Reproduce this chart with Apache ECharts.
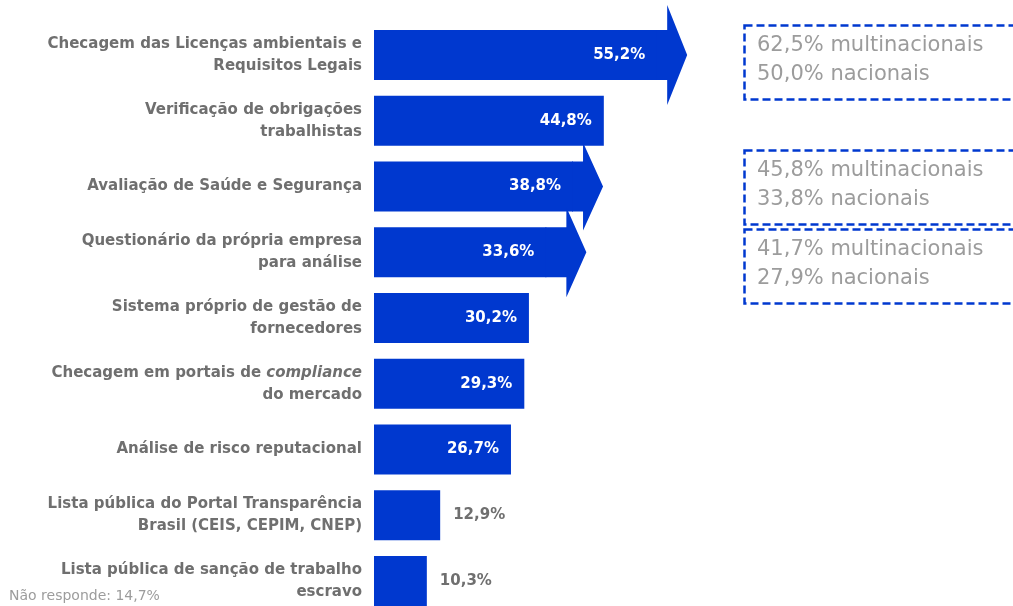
<!DOCTYPE html>
<html>
<head>
<meta charset="utf-8">
<script src="https://cdn.jsdelivr.net/npm/echarts@6/dist/echarts.min.js"></script>
<style>
  html, body { margin: 0; padding: 0; background: #fff; }
  #chart { width: 1013px; height: 606px; }
</style>
</head>
<body>
<div id="chart"></div>
<script>
// categories, top to bottom
const categories = [
    'Checagem das Licenças ambientais e\nRequisitos Legais',
    'Verificação de obrigações\ntrabalhistas',
    'Avaliação de Saúde e Segurança',
    'Questionário da própria empresa\npara análise',
    'Sistema próprio de gestão de\nfornecedores',
    'Checagem em portais de compliance\ndo mercado',
    'Análise de risco reputacional',
    'Lista pública do Portal Transparência\nBrasil (CEIS, CEPIM, CNEP)',
    'Lista pública de sanção de trabalho\nescravo'
]
const values = [55.2, 44.8, 38.8, 33.6, 30.2, 29.3, 26.7, 12.9, 10.3]

// bars with an arrow and a breakdown box
const arrowIdx = [0, 2, 3]
const multinacionais = [62.5, 45.8, 41.7]
const nacionais = [50.0, 33.8, 27.9]
const naoResponde = 14.7

const BLUE = '#0038CF'
const GRAY = '#6f6f6f'
const LIGHT = '#9c9c9c'
const FONT = 'DejaVu Sans'

const fmt = v => v.toFixed(1).replace('.', ',') + '%'

// arrow look (px)
const shaftExt = [10, 10, 20]
const headHalf = [50, 44, 45]
const headLen = 20

let dom = echarts.init(document.getElementById('chart'))

let boxes = []
const boxTop = [23, 148, 227]
arrowIdx.forEach((idx, i) => {
    boxes.push({
        type: 'rect',
        left: 742, top: boxTop[i],
        shape: { width: 330, height: 74 },
        style: { fill: 'none', stroke: BLUE, lineWidth: 2.5, lineDash: [8, 4] },
        z: 10
    })
    boxes.push({
        type: 'text',
        left: 757, top: boxTop[i] + 8,
        style: {
            text: fmt(multinacionais[i]) + ' multinacionais\n' + fmt(nacionais[i]) + ' nacionais',
            fill: LIGHT, font: '21px "' + FONT + '"', lineHeight: 29
        },
        z: 11
    })
})
boxes.push({
    type: 'text', left: 9, top: 589,
    style: { text: 'Não responde: ' + fmt(naoResponde), fill: LIGHT, font: '14px "' + FONT + '"' }
})

let option = {
    animation: false,
    grid: { left: 374, top: 22, width: 513, height: 592, outerBoundsMode: 'none' },
    xAxis: { type: 'value', min: 0, max: 100, show: false },
    yAxis: {
        type: 'category',
        inverse: true,
        data: categories,
        axisLine: { show: false },
        axisTick: { show: false },
        axisLabel: {
            margin: 12,
            color: GRAY,
            fontFamily: FONT,
            fontWeight: 'bold',
            fontSize: 15,
            lineHeight: 22,
            align: 'right',
            formatter: function (v) {
                return v.replace('compliance', '{i|compliance}')
            },
            rich: {
                i: { fontStyle: 'italic', fontWeight: 'bold', color: GRAY, fontFamily: FONT, fontSize: 15, lineHeight: 22 }
            }
        }
    },
    series: [
        {
            type: 'bar',
            barWidth: 50,
            itemStyle: { color: BLUE },
            data: values.map(v => ({
                value: v,
                label: v < 20
                    ? { show: true, position: 'right', distance: 13, color: GRAY }
                    : { show: true, position: 'insideRight', distance: 12, color: '#fff' }
            })),
            label: {
                fontFamily: FONT,
                fontWeight: 'bold',
                fontSize: 15,
                formatter: p => fmt(p.value)
            },
            z: 2
        },
        {
            type: 'custom',
            z: 3,
            data: arrowIdx.map((idx, i) => [values[idx], idx, i]),
            encode: { x: 0, y: 1 },
            renderItem: function (params, api) {
                let pt = api.coord([api.value(0), api.value(1)])
                let half = api.size([0, 1])[1] * 0.38
                let k = api.value(2)
                let x0 = pt[0] - 1, y = pt[1]
                let x1 = pt[0] + shaftExt[k]
                let hh = headHalf[k]
                return {
                    type: 'polygon',
                    shape: {
                        points: [
                            [x0, y - half], [x1, y - half], [x1, y - hh],
                            [x1 + headLen, y], [x1, y + hh], [x1, y + half], [x0, y + half]
                        ]
                    },
                    style: { fill: BLUE }
                }
            }
        }
    ],
    graphic: boxes
}
dom.setOption(option)
</script>
</body>
</html>
